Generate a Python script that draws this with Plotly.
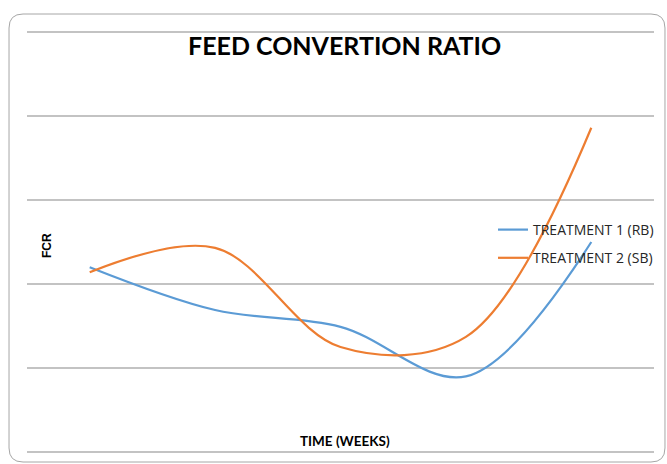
import plotly.graph_objects as go

# Feed conversion ratio per sampling week
weeks = [1, 2, 3, 4, 5]
treatment_1_rb = [2.20, 1.69, 1.49, 0.90, 2.50]
treatment_2_sb = [2.14, 2.43, 1.25, 1.37, 3.86]

W, H = 667, 464
ML, MR, MT, MB = 27, 12, 29, 9
PW, PH = W - ML - MR, H - MT - MB


def px(x):
    return (x - ML) / PW


def py(y):
    return (H - MB - y) / PH


def rounded_rect(x0, y0, x1, y1, r):
    # rounded rectangle path in paper coordinates, given pixel corners
    rx, ry = r / PW, r / PH
    X0, X1 = px(x0), px(x1)
    Y0, Y1 = py(y0), py(y1)  # Y0 top, Y1 bottom
    return (
        f"M {X0 + rx},{Y0} L {X1 - rx},{Y0} Q {X1},{Y0} {X1},{Y0 - ry} "
        f"L {X1},{Y1 + ry} Q {X1},{Y1} {X1 - rx},{Y1} "
        f"L {X0 + rx},{Y1} Q {X0},{Y1} {X0},{Y1 + ry} "
        f"L {X0},{Y0 - ry} Q {X0},{Y0} {X0 + rx},{Y0} Z"
    )


fig = go.Figure()
fig.add_trace(go.Scatter(
    x=weeks, y=treatment_1_rb, mode="lines", name="TREATMENT 1 (RB)",
    line=dict(color="#5B9BD5", width=2.2, shape="spline", smoothing=1.0),
    legendgroup="t1",
))
fig.add_trace(go.Scatter(
    x=weeks, y=treatment_2_sb, mode="lines", name="TREATMENT 2 (SB)",
    line=dict(color="#ED7D31", width=2.2, shape="spline", smoothing=1.0),
    legendgroup="t2",
))

fig.update_layout(
    width=W, height=H,
    margin=dict(l=ML, r=MR, t=MT, b=MB),
    paper_bgcolor="white", plot_bgcolor="white",
    showlegend=True,
    legend=dict(
        x=px(493), y=py(214), xanchor="left", yanchor="top",
        bgcolor="rgba(0,0,0,0)", borderwidth=0,
        font=dict(family="Open Sans", size=14, color="#262626"),
        traceorder="grouped", tracegroupgap=7, itemwidth=30,
    ),
    xaxis=dict(
        range=[0.5, 5.5], showgrid=False, zeroline=False,
        showticklabels=False, ticks="", showline=False, fixedrange=True,
    ),
    yaxis=dict(
        range=[-0.036, 5.036], dtick=1, tick0=0, showgrid=True,
        gridcolor="#c3c3c3", gridwidth=1.5, zeroline=False,
        showticklabels=False, ticks="", showline=False, fixedrange=True,
    ),
    shapes=[dict(
        type="path", xref="paper", yref="paper",
        path=rounded_rect(9, 14, 666, 462, 14),
        line=dict(color="#a6a6a6", width=1), fillcolor="rgba(0,0,0,0)",
        layer="below",
    )],
    annotations=[
        dict(text="<b>FEED CONVERTION RATIO</b>", xref="paper", yref="paper",
             x=px(345), y=py(45), xanchor="center", yanchor="middle",
             showarrow=False,
             font=dict(family="Lato", size=25, color="#000000")),
        dict(text="<b>FCR</b>", xref="paper", yref="paper",
             x=px(47), y=py(245), xanchor="center", yanchor="middle",
             showarrow=False, textangle=-90,
             font=dict(family="Liberation Sans", size=12, color="#000000")),
        dict(text="<b>TIME (WEEKS)</b>", xref="paper", yref="paper",
             x=px(346), y=py(441), xanchor="center", yanchor="middle",
             showarrow=False,
             font=dict(family="Lato", size=13.5, color="#000000")),
    ],
)

fig.write_html("out.html")
